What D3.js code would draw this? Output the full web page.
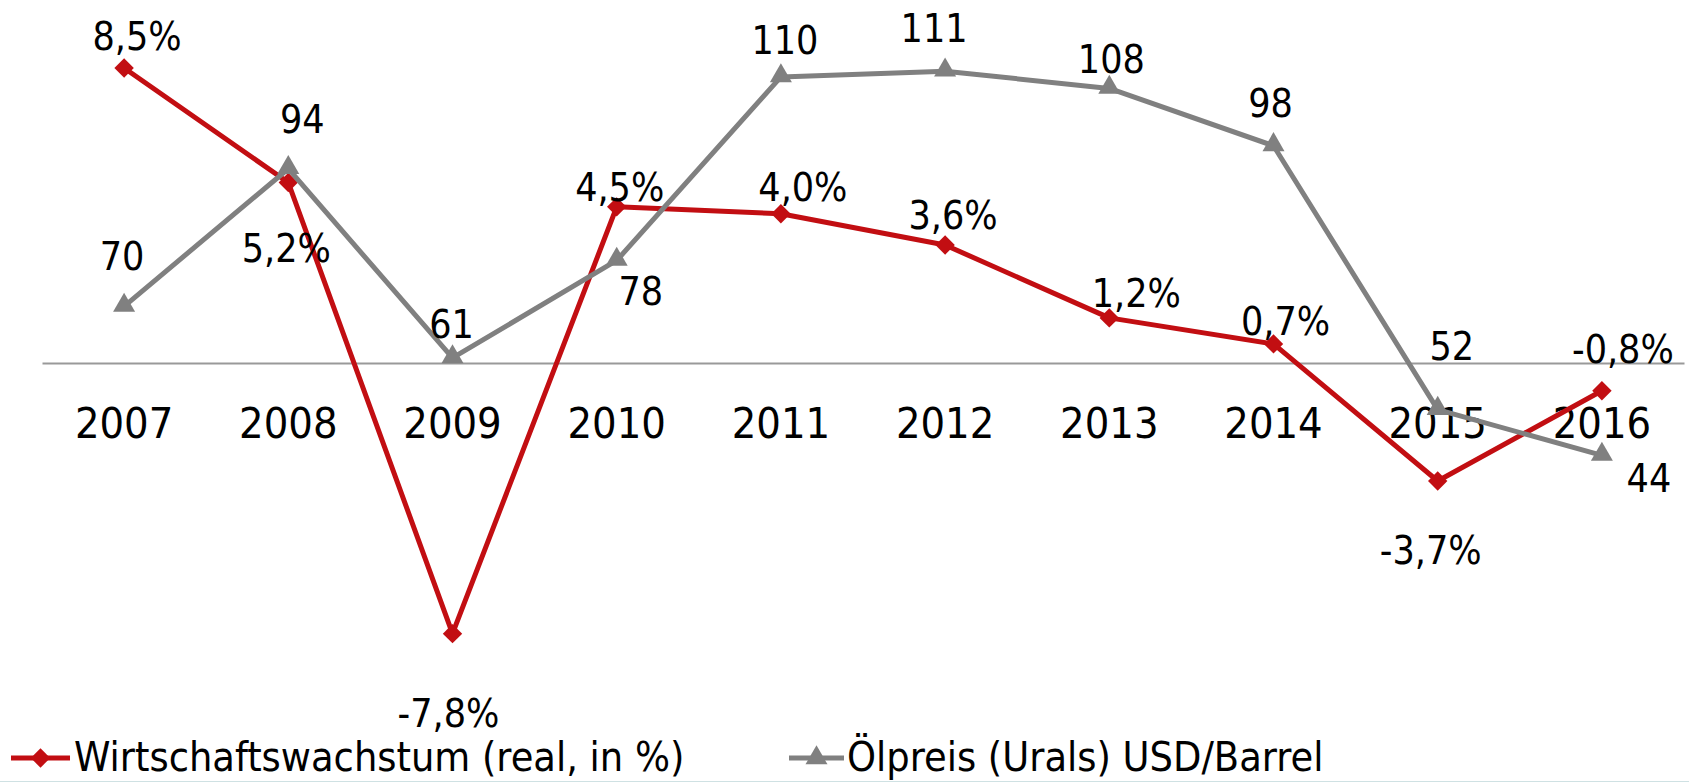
<!DOCTYPE html>
<html lang="de">
  <head>
    <meta charset="UTF-8" />
    <title>Wirtschaftswachstum und Ölpreis</title>
    <style>
      body { margin: 0; background: #fff; }
      text { font-family: "DejaVu Sans Condensed", "DejaVu Sans", sans-serif; fill: #000; }
    </style>
  </head>
  <body>
    <svg id="chart" width="1689" height="782"></svg>
    <script src="https://cdn.jsdelivr.net/npm/d3@7/dist/d3.min.js"></script>
    <script>
      var years = ['2007', '2008', '2009', '2010', '2011', '2012', '2013', '2014', '2015', '2016'];

      // growth in %
      var growth = [8.5, 5.2, -7.8, 4.5, 4.3, 3.4, 1.3, 0.55, -3.4, -0.8];
      var growthLabels = ['8,5%', '5,2%', '-7,8%', '4,5%', '4,0%', '3,6%', '1,2%', '0,7%', '-3,7%', '-0,8%'];

      // Urals price, USD/barrel
      var oil = [70, 94, 61, 78, 110, 111, 108, 98, 52, 44];
      var oilLabels = ['70', '94', '61', '78', '110', '111', '108', '98', '52', '44'];

      // label placement relative to the marker (dx, dy of text baseline)
      var growthLabelOffset = [[13, -18], [-2, 79], [-4, 93], [3, -6], [22, -13], [8, -16], [27, -11], [12, -9], [-7, 83], [21, -28]];
      var oilLabelOffset = [[-2, -36], [14, -36], [-1, -20], [24, 45], [4, -23], [-11, -29], [2, -15], [-3, -29], [14, -50], [47, 37]];

      var seriesNames = ['Wirtschaftswachstum (real, in %)', 'Ölpreis (Urals) USD/Barrel'];

      var red = '#c20e12';
      var grey = '#808080';

      var svg = d3.select('#chart');

      var x = d3.scaleBand().domain(years).range([42, 1684]).padding(0);
      var cx = d => x(d) + x.bandwidth() / 2;
      var yGrowth = d3.scaleLinear().domain([-10, 10]).range([710, 16]);
      var yOil = d3.scaleLinear().domain([0, 120]).range([707.8, 19.6]);

      // category axis on the zero line of the growth axis
      var axis = svg.append('g')
        .attr('transform', `translate(0,${yGrowth(0)})`)
        .call(d3.axisBottom(x).tickSize(0));
      axis.select('.domain').attr('stroke', '#999').attr('stroke-width', 2);
      axis.selectAll('text')
        .attr('y', 75)
        .attr('dy', 0)
        .style('font-size', '43px')
        .style('font-family', '"DejaVu Sans Condensed", sans-serif')
        .attr('fill', '#000');

      var growthData = years.map((d, i) => ({ year: d, value: growth[i], label: growthLabels[i], off: growthLabelOffset[i] }));
      var oilData = years.map((d, i) => ({ year: d, value: oil[i], label: oilLabels[i], off: oilLabelOffset[i] }));

      var diamond = d3.symbol().type(d3.symbolDiamond2).size(240);
      var triangle = d3.symbol().type(d3.symbolTriangle).size(210);

      // growth series
      svg.append('path')
        .datum(growthData)
        .attr('fill', 'none')
        .attr('stroke', red)
        .attr('stroke-width', 5)
        .attr('stroke-linejoin', 'round')
        .attr('d', d3.line().x(d => cx(d.year)).y(d => yGrowth(d.value)));

      svg.append('g')
        .selectAll('path')
        .data(growthData)
        .join('path')
        .attr('transform', d => `translate(${cx(d.year)},${yGrowth(d.value)})`)
        .attr('d', diamond)
        .attr('fill', red);

      // oil series
      svg.append('path')
        .datum(oilData)
        .attr('fill', 'none')
        .attr('stroke', grey)
        .attr('stroke-width', 5)
        .attr('stroke-linejoin', 'round')
        .attr('d', d3.line().x(d => cx(d.year)).y(d => yOil(d.value)));

      svg.append('g')
        .selectAll('path')
        .data(oilData)
        .join('path')
        .attr('transform', d => `translate(${cx(d.year)},${yOil(d.value) - 1})`)
        .attr('d', triangle)
        .attr('fill', grey);

      // data labels
      svg.append('g')
        .style('font-size', '39px')
        .attr('text-anchor', 'middle')
        .selectAll('text')
        .data(growthData)
        .join('text')
        .attr('x', d => cx(d.year) + d.off[0])
        .attr('y', d => yGrowth(d.value) + d.off[1])
        .text(d => d.label);

      svg.append('g')
        .style('font-size', '39px')
        .attr('text-anchor', 'middle')
        .selectAll('text')
        .data(oilData)
        .join('text')
        .attr('x', d => cx(d.year) + d.off[0])
        .attr('y', d => yOil(d.value) + d.off[1])
        .text(d => d.label);

      // legend
      var legend = svg.append('g').attr('transform', 'translate(0,758)');
      var items = [
        { name: seriesNames[0], color: red, symbol: diamond, x0: 11, x1: 70, tx: 74 },
        { name: seriesNames[1], color: grey, symbol: triangle, x0: 789, x1: 844, tx: 847 }
      ];
      var item = legend.selectAll('g').data(items).join('g');
      item.append('line')
        .attr('x1', d => d.x0).attr('x2', d => d.x1)
        .attr('stroke', d => d.color).attr('stroke-width', 5);
      item.append('path')
        .attr('transform', d => `translate(${(d.x0 + d.x1) / 2},0)`)
        .attr('d', d => d.symbol())
        .attr('fill', d => d.color);
      item.append('text')
        .attr('x', d => d.tx)
        .attr('y', 13)
        .style('font-size', '41px')
        .text(d => d.name);

      // slide edge at the bottom
      svg.append('line')
        .attr('x1', 0).attr('x2', 1689)
        .attr('y1', 781.5).attr('y2', 781.5)
        .attr('stroke', '#cfe1e3').attr('stroke-width', 1);
    </script>
  </body>
</html>
